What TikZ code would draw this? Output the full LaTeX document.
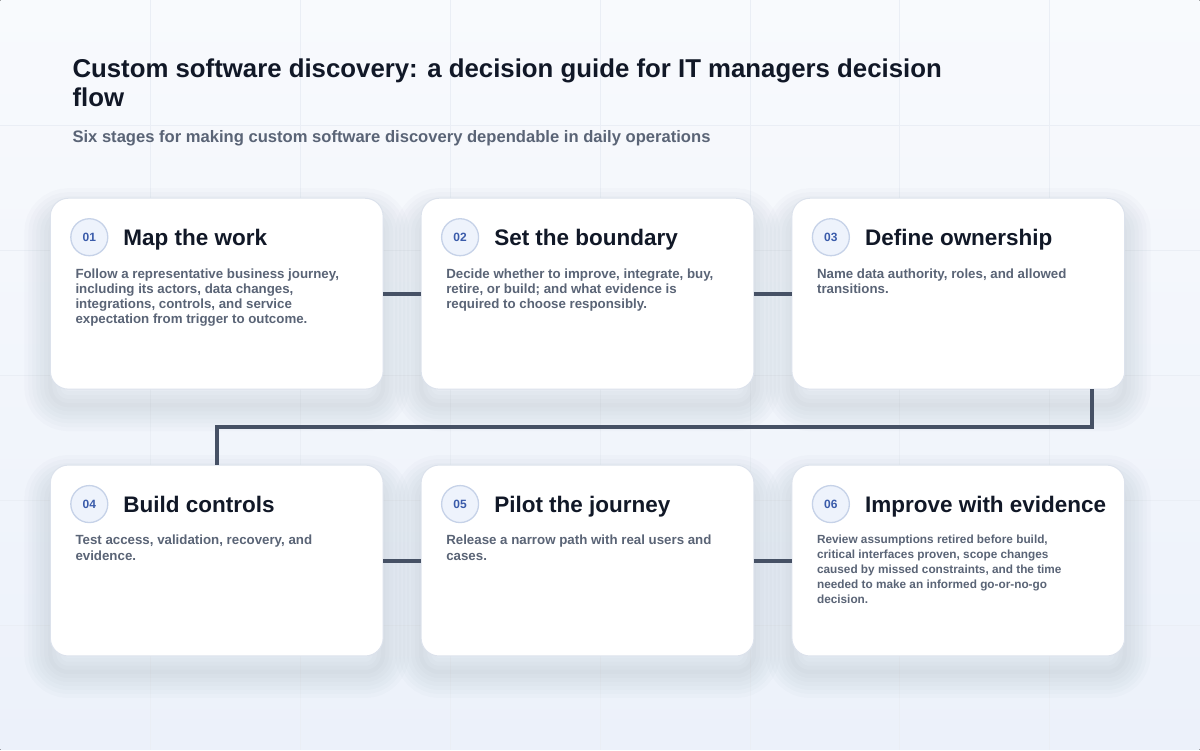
\documentclass[tikz,border=0pt]{standalone}
\usepackage{fontspec}
\setmainfont{Liberation Sans}
\definecolor{InkDark}{HTML}{111827}
\definecolor{SlateText}{HTML}{5A6476}
\definecolor{LinkSlate}{HTML}{465165}
\definecolor{NumBlue}{HTML}{3A5BAA}
\definecolor{NumFill}{HTML}{EEF3FC}
\definecolor{NumLine}{HTML}{C6D2E8}
\definecolor{CardLine}{HTML}{DCE2EC}
\definecolor{ShadowInk}{HTML}{23335A}
\definecolor{BgTop}{HTML}{F8FAFD}
\definecolor{BgBottom}{HTML}{ECF1FA}
\definecolor{GridLine}{HTML}{EAEEF5}
\usetikzlibrary{positioning, calc}

\begin{document}
\begin{tikzpicture}[
        x=1bp, y=-1bp,
        node distance=76bp and 38bp,
        % Styles
        glow/.style={draw=ShadowInk, draw opacity=0.016, line width=#1, transform canvas={yshift=-16bp}},
        card/.style={rectangle, draw=CardLine, line width=1bp, fill=white, rounded corners=18bp, minimum width=333bp, minimum height=191bp, inner sep=0pt, outer sep=0pt,
            preaction={glow=52bp}, preaction={glow=44bp}, preaction={glow=36bp}, preaction={glow=28bp}, preaction={glow=20bp}, preaction={glow=12bp}, preaction={glow=4bp}},
        num/.style={circle, draw=NumLine, line width=1.3bp, fill=NumFill, minimum size=37bp, inner sep=0pt, text=NumBlue, font=\bfseries\fontsize{12bp}{14bp}\selectfont},
        head/.style={anchor=base west, inner sep=0pt, text=InkDark, font=\bfseries\fontsize{22.5bp}{26bp}\selectfont},
        body/.style={anchor=north west, inner sep=0pt, align=left, text=SlateText, font=\bfseries\fontsize{13.3bp}{15.3bp}\selectfont},
        small/.style={body, font=\bfseries\fontsize{11.8bp}{15bp}\selectfont},
        link/.style={draw=LinkSlate, line width=4bp}
    ]
        % Background
        \fill[top color=BgTop, bottom color=BgBottom] (0,0) rectangle (1200,750);
        \foreach \gx in {150,300,...,1050} \draw[GridLine, line width=0.7bp] (\gx,0) -- (\gx,750);
        \foreach \gy in {125,250,...,625} \draw[GridLine, line width=0.7bp] (0,\gy) -- (1200,\gy);

        % Title
        \node[anchor=base west, inner sep=0pt, align=left, text=InkDark, font=\bfseries\fontsize{25.8bp}{29bp}\selectfont] (title) at (72,106) {Custom software discovery: a decision guide for IT managers decision\\flow};
        \node[anchor=base west, inner sep=0pt, text=SlateText, font=\bfseries\fontsize{16.6bp}{19bp}\selectfont] (subtitle) at (72,142) {Six stages for making custom software discovery dependable in daily operations};

        % Cards
        \node[card, anchor=north west] (map) at (50,198) {};
        \node[card, right=of map] (boundary) {};
        \node[card, right=of boundary] (ownership) {};
        \node[card, below=of map] (controls) {};
        \node[card, right=of controls] (pilot) {};
        \node[card, right=of pilot] (improve) {};

        % Card contents
        \node[num] (map-num) at ($(map.north west)+(39,39)$) {01};
        \node[head] (map-head) at ($(map.north west)+(73,47)$) {Map the work};
        \node[body] (map-text) at ($(map.north west)+(25,70)$) {Follow a representative business journey,\\including its actors, data changes,\\integrations, controls, and service\\expectation from trigger to outcome.};

        \node[num] (boundary-num) at ($(boundary.north west)+(39,39)$) {02};
        \node[head] (boundary-head) at ($(boundary.north west)+(73,47)$) {Set the boundary};
        \node[body] (boundary-text) at ($(boundary.north west)+(25,70)$) {Decide whether to improve, integrate, buy,\\retire, or build; and what evidence is\\required to choose responsibly.};

        \node[num] (ownership-num) at ($(ownership.north west)+(39,39)$) {03};
        \node[head] (ownership-head) at ($(ownership.north west)+(73,47)$) {Define ownership};
        \node[body] (ownership-text) at ($(ownership.north west)+(25,70)$) {Name data authority, roles, and allowed\\transitions.};

        \node[num] (controls-num) at ($(controls.north west)+(39,39)$) {04};
        \node[head] (controls-head) at ($(controls.north west)+(73,47)$) {Build controls};
        \node[body] (controls-text) at ($(controls.north west)+(25,70)$) {Test access, validation, recovery, and\\evidence.};

        \node[num] (pilot-num) at ($(pilot.north west)+(39,39)$) {05};
        \node[head] (pilot-head) at ($(pilot.north west)+(73,47)$) {Pilot the journey};
        \node[body] (pilot-text) at ($(pilot.north west)+(25,70)$) {Release a narrow path with real users and\\cases.};

        \node[num] (improve-num) at ($(improve.north west)+(39,39)$) {06};
        \node[head] (improve-head) at ($(improve.north west)+(73,47)$) {Improve with evidence};
        \node[small] (improve-text) at ($(improve.north west)+(25,70)$) {Review assumptions retired before build,\\critical interfaces proven, scope changes\\caused by missed constraints, and the time\\needed to make an informed go-or-no-go\\decision.};

        % Paths
        \path[link] (map) -- (boundary);
        \path[link] (boundary) -- (ownership);
        \path[link] ($(ownership.south east)+(-33,0)$) -- ++(0,38) -| (controls.north);
        \path[link] (controls) -- (pilot);
        \path[link] (pilot) -- (improve);
    \end{tikzpicture}
\end{document}
